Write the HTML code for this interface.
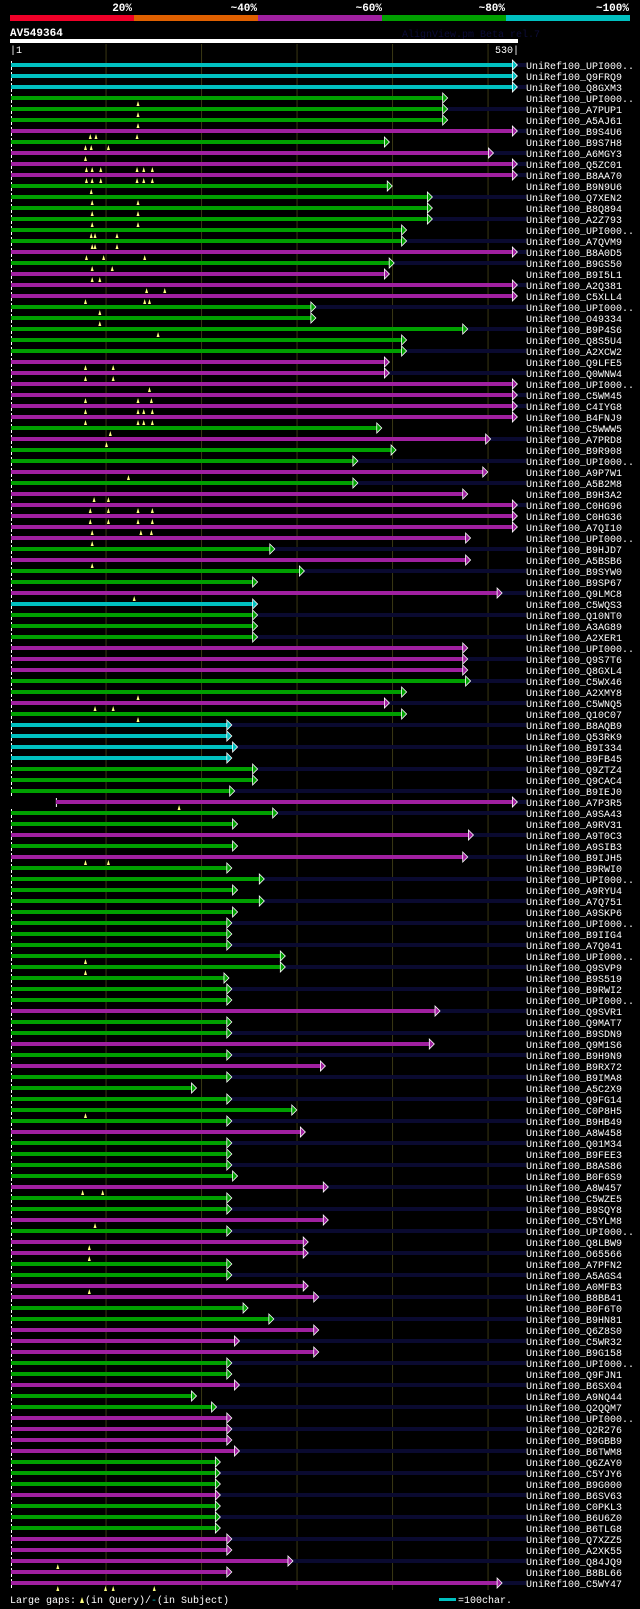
<!DOCTYPE html>
<html><head><meta charset="utf-8"><style>
html,body{margin:0;padding:0;background:#000;}
svg{display:block;font-family:"Liberation Mono",monospace;}
</style></head><body>
<svg id="chart" width="640" height="1609" viewBox="0 0 640 1609" xmlns="http://www.w3.org/2000/svg">
<rect x="0" y="0" width="640" height="1609" fill="#000"/>
<g>
<text x="132" y="11" fill="#fff" font-size="11" font-weight="bold" text-anchor="end">20%</text>
<text x="257" y="11" fill="#fff" font-size="11" font-weight="bold" text-anchor="end">~40%</text>
<text x="382" y="11" fill="#fff" font-size="11" font-weight="bold" text-anchor="end">~60%</text>
<text x="505" y="11" fill="#fff" font-size="11" font-weight="bold" text-anchor="end">~80%</text>
<text x="629" y="11" fill="#fff" font-size="11" font-weight="bold" text-anchor="end">~100%</text>
<rect x="10" y="15" width="124" height="6" fill="#f00028"/>
<rect x="134" y="15" width="124" height="6" fill="#e06000"/>
<rect x="258" y="15" width="124" height="6" fill="#a020a0"/>
<rect x="382" y="15" width="124" height="6" fill="#00a000"/>
<rect x="506" y="15" width="124" height="6" fill="#00c0c0"/>
</g>
<text x="10" y="36" fill="#fff" font-size="11" font-weight="bold">AV549364</text>
<text x="402" y="37" fill="#0c0c38" font-size="10">AlignView.pm Beta rel.7</text>
<rect x="10" y="39" width="508" height="4" fill="#fff"/>
<text x="10" y="53" fill="#fff" font-size="10">|1</text>
<text x="519" y="53" fill="#fff" font-size="10" text-anchor="end">530|</text>
<g id="grid"></g>
<g id="rows"></g>
<g>
<text x="10" y="1603" fill="#fff" font-size="10">Large gaps:</text>
<polygon points="80,1603 82,1597 84,1603" fill="#ffff80"/>
<text x="85" y="1603" fill="#fff" font-size="10">(in Query)/</text>
<text x="151" y="1603" fill="#00c0c0" font-size="10">-</text>
<text x="157" y="1603" fill="#fff" font-size="10"> (in Subject)</text>
<rect x="439" y="1598" width="17" height="3" fill="#00c0c0"/>
<text x="458" y="1603" fill="#fff" font-size="10">=100char.</text>
</g>
</svg>
<script>
const names = ["UPI000..","Q9FRQ9","Q8GXM3","UPI000..","A7PUP1","A5AJ61","B9S4U6","B9S7H8","A6MGY3","Q5ZC01","B8AA70","B9N9U6","Q7XEN2","B8Q894","A2Z793","UPI000..","A7QVM9","B8A0D5","B9GS50","B9I5L1","A2Q381","C5XLL4","UPI000..","O49334","B9P4S6","Q8S5U4","A2XCW2","Q9LFE5","Q0WNW4","UPI000..","C5WM45","C4IYG8","B4FNJ9","C5WWW5","A7PRD8","B9R908","UPI000..","A9P7W1","A5B2M8","B9H3A2","C0HG96","C0HG36","A7QI10","UPI000..","B9HJD7","A5BSB6","B9SYW0","B9SP67","Q9LMC8","C5WQS3","Q10NT0","A3AG89","A2XER1","UPI000..","Q9S7T6","Q8GXL4","C5WX46","A2XMY8","C5WNQ5","Q10C07","B8AQB9","Q53RK9","B9I334","B9FB45","Q9ZTZ4","Q9CAC4","B9IEJ0","A7P3R5","A9SA43","A9RV31","A9T0C3","A9SIB3","B9IJH5","B9RWI0","UPI000..","A9RYU4","A7Q751","A9SKP6","UPI000..","B9IIG4","A7Q041","UPI000..","Q9SVP9","B9S519","B9RWI2","UPI000..","Q9SVR1","Q9MAT7","B9SDN9","Q9M1S6","B9H9N9","B9RX72","B9IMA8","A5C2X9","Q9FG14","C0P8H5","B9HB49","A8W458","Q01M34","B9FEE3","B8AS86","B0F6S9","A8W457","C5WZE5","B9SQY8","C5YLM8","UPI000..","Q8LBW9","O65566","A7PFN2","A5AGS4","A0MFB3","B8BB41","B0F6T0","B9HN81","Q6Z8S0","C5WR32","B9G158","UPI000..","Q9FJN1","B6SX04","A9NQ44","Q2QQM7","UPI000..","Q2R276","B9GBB9","B6TWM8","Q6ZAY0","C5YJY6","B9G000","B6SV63","C0PKL3","B6U6Z0","B6TLG8","Q7XZZ5","A2XK55","Q84JQ9","B8BL66","C5WY47"];
// color class: c=cyan g=green m=magenta
const colorClass = "cccgggmgmm" + "mggggggmgm" + "mmgggggmmm" + "mmmgmggmgm" + "mmmmgmggmc" + "gggmmmggmg" + "ccccgggmgg" + "mgmggggggg" + "ggggggmggm" + "gmgggggmgg" + "ggmggmgmmg" + "gmmggmmmgg" + "mggmmmmggg" + "mgggmmmmm";
const endRes = [526,526,526,453,453,453,526,392,501,526,526,395,437,437,437,410,410,526,397,392,526,526,315,315,474,410,410,392,392,526,526,526,526,384,498,399,359,495,359,474,526,526,526,477,272,477,303,254,510,254,254,254,254,474,474,474,477,410,392,410,227,227,233,227,254,254,230,526,275,233,480,233,474,227,261,233,261,233,227,227,227,283,283,224,227,227,445,227,227,439,227,325,227,190,227,295,227,304,227,227,227,233,328,227,227,328,227,307,307,227,227,307,318,244,271,318,235,318,227,227,235,190,211,227,227,227,235,215,215,215,215,215,215,215,227,227,291,227,510];
const startRes = {67:48};
const extended = [1,0,1,0,1,0,1,0,1,1, 1,0,1,0,1,0,1,1,1,0, 1,0,1,0,1,0,1,0,1,0, 1,1,0,0,1,0,1,0,1,0, 1,0,0,0,1,0,1,0,1,0, 1,0,1,0,1,0,1,0,1,0, 1,0,1,0,1,0,1,1,1,0, 1,0,1,0,1,0,1,0,1,0, 1,0,1,0,1,0,1,0,1,0, 1,0,1,0,1,0,1,0,1,0, 1,0,1,0,1,0,1,0,1,0, 1,0,1,0,1,0,1,0,1,0, 1,0,1,0,1,0,1,0,1,0, 1,0,1,0,1,0,1,0,1];
const gaps = {3:[134],4:[134],5:[134],6:[84,90,133],7:[79,85,103],8:[79],9:[80,86,95,133,140,149],10:[80,86,95,133,140,149],11:[85],12:[86,134],13:[86,134],14:[86,134],15:[85,89,112],16:[86,89,112],17:[80,98,141],18:[86,107],19:[86,94],20:[143,162],21:[79,141,146],22:[94],23:[94],24:[155],27:[79,108],28:[79,108],29:[146],30:[79,134,148],31:[79,134,140,149],32:[79,134,140,149],33:[105],34:[101],37:[124],39:[88,103],40:[84,103,134,149],41:[84,103,134,149],42:[86,137,148],43:[86],45:[86],48:[130],57:[134],58:[89,108],59:[134],67:[177],72:[79,103],81:[79],82:[79],95:[79],102:[76,97],105:[89],107:[83],108:[83],111:[83],136:[50],138:[50,100,108,151]};
const gridTicks = [100,200,300,400,500];
const colors = {c:"#00c0c0",g:"#00a000",m:"#a020a0"};
const NS = "http://www.w3.org/2000/svg";
const xScale = r => 11 + (r - 1) * 0.955;
const yRow = i => 65 + 11 * i;
function mk(tag, attrs, parent){const e=document.createElementNS(NS,tag);for(const k in attrs)e.setAttribute(k,attrs[k]);parent.appendChild(e);return e;}
const grid = document.getElementById('grid');
gridTicks.forEach(t => {
  const l = mk('line',{x1:xScale(t)+0.5,x2:xScale(t)+0.5,y1:44,y2:1590,stroke:'#3a3814','stroke-width':1},grid);
  
  
});
const rowsG = document.getElementById('rows');
names.forEach((n, i) => {
  const y = yRow(i);
  const g = mk('g',{},rowsG);
  
  
  const col = colors[colorClass[i]];
  const x0 = xScale(startRes[i] || 1);
  const x1 = xScale(endRes[i]);
  if (extended[i]) {
    const ex = mk('rect',{x:x1,y:y-2,width:526-x1,height:4,fill:'#0a0a30'},g);
    
    
  }
  const tick = mk('rect',{x:x0,y:y-4,width:1,height:9,fill:'#fff'},g);
  
  
  const bar = mk('rect',{x:x0,y:y-2,width:x1-x0,height:4,fill:col},g);
  
  
  const ar = mk('polygon',{points:`${x1},${y-5} ${x1+5},${y} ${x1},${y+5}`,fill:col,stroke:'#fff','stroke-width':0.8},g);
  
  
  (gaps[i] || []).forEach(p => {
    const gx = xScale(p);
    const tr = mk('polygon',{points:`${gx-1.5},${y+8} ${gx},${y+3} ${gx+1.5},${y+8}`,fill:'#ffff80'},g);
    
    
  });
  const t = mk('text',{x:526,y:y+4,fill:'#fff','font-size':10},g);
  t.textContent = 'UniRef100_' + n;
  
  
});
</script>
</body></html>
